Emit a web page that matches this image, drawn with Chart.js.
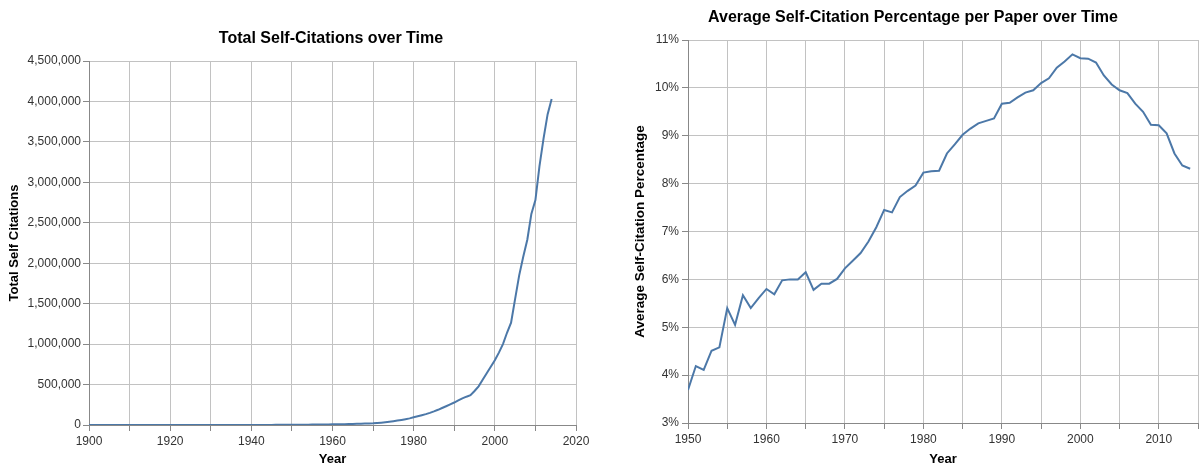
<!DOCTYPE html>
<html>
<head>
<meta charset="utf-8">
<script src="https://cdn.jsdelivr.net/npm/chart.js@4.4.1/dist/chart.umd.min.js"></script>
<style>
  html, body { margin: 0; padding: 0; background: #fff; }
  #wrap { position: relative; width: 1203px; height: 468px; }
  canvas { position: absolute; top: 0; }
</style>
</head>
<body>
<div id="wrap">
  <canvas id="chartTotal" width="600" height="468" style="left:0"></canvas>
  <canvas id="chartPct" width="603" height="468" style="left:600px"></canvas>
</div>
<script>
// ---- data: total self-citations per year ----
const totalYears = [
  1900, 1901, 1902, 1903, 1904, 1905, 1906, 1907, 1908, 1909,
  1910, 1911, 1912, 1913, 1914, 1915, 1916, 1917, 1918, 1919,
  1920, 1921, 1922, 1923, 1924, 1925, 1926, 1927, 1928, 1929,
  1930, 1931, 1932, 1933, 1934, 1935, 1936, 1937, 1938, 1939,
  1940, 1941, 1942, 1943, 1944, 1945, 1946, 1947, 1948, 1949,
  1950, 1951, 1952, 1953, 1954, 1955, 1956, 1957, 1958, 1959,
  1960, 1961, 1962, 1963, 1964, 1965, 1966, 1967, 1968, 1969,
  1970, 1971, 1972, 1973, 1974, 1975, 1976, 1977, 1978, 1979,
  1980, 1981, 1982, 1983, 1984, 1985, 1986, 1987, 1988, 1989,
  1990, 1991, 1992, 1993, 1994, 1995, 1996, 1997, 1998, 1999,
  2000, 2001, 2002, 2003, 2004, 2005, 2006, 2007, 2008, 2009,
  2010, 2011, 2012, 2013, 2014
];
const totalSelfCitations = [
  150, 160, 170, 180, 200, 210, 230, 240, 260, 280,
  300, 320, 340, 360, 350, 330, 330, 360, 400, 450,
  500, 540, 580, 620, 660, 700, 750, 800, 850, 900,
  950, 1000, 1050, 1100, 1150, 1200, 1250, 1300, 1350, 1400,
  1400, 1350, 1300, 1300, 1350, 1500, 1700, 1900, 2100, 2400,
  2800, 3100, 3400, 3800, 4200, 4700, 5200, 5800, 6400, 7000,
  7800, 8600, 9500, 10500, 11500, 12800, 14200, 15800, 17500, 19500,
  21500, 25000, 29000, 34000, 40000, 47000, 55000, 63000, 72000, 82000,
  95000, 107000, 120000, 134000, 150000, 168000, 188000, 210000, 232000, 255000,
  278000, 305000, 330000, 350000, 368000, 420000, 478000, 560000, 640000, 720000,
  800000, 895000, 1000000, 1140000, 1265000, 1560000, 1850000, 2080000, 2290000, 2610000,
  2780000, 3200000, 3540000, 3840000, 4030000
];

// ---- data: average self-citation percentage per paper ----
const pctYears = [
  1950, 1951, 1952, 1953, 1954, 1955, 1956, 1957, 1958, 1959,
  1960, 1961, 1962, 1963, 1964, 1965, 1966, 1967, 1968, 1969,
  1970, 1971, 1972, 1973, 1974, 1975, 1976, 1977, 1978, 1979,
  1980, 1981, 1982, 1983, 1984, 1985, 1986, 1987, 1988, 1989,
  1990, 1991, 1992, 1993, 1994, 1995, 1996, 1997, 1998, 1999,
  2000, 2001, 2002, 2003, 2004, 2005, 2006, 2007, 2008, 2009,
  2010, 2011, 2012, 2013, 2014
];
const avgSelfCitationPct = [
  3.69, 4.19, 4.11, 4.51, 4.58, 5.40, 5.05, 5.67, 5.40, 5.61,
  5.80, 5.69, 5.98, 6.00, 6.00, 6.15, 5.78, 5.91, 5.91, 6.01,
  6.23, 6.39, 6.55, 6.79, 7.09, 7.45, 7.40, 7.72, 7.85, 7.96,
  8.23, 8.26, 8.27, 8.63, 8.82, 9.02, 9.15, 9.26, 9.31, 9.36,
  9.67, 9.69, 9.80, 9.90, 9.95, 10.10, 10.20, 10.42, 10.55, 10.70,
  10.62, 10.61, 10.53, 10.26, 10.07, 9.95, 9.89, 9.67, 9.50, 9.23,
  9.22, 9.05, 8.63, 8.38, 8.31
];

const FONT = "'Liberation Sans', Arial, Helvetica, sans-serif";
const LINE_COLOR = '#4c78a8';
const GRID_COLOR = '#c2c2c2';
const DOMAIN_COLOR = '#888';

// chart title drawn at a fixed spot (x in canvas coords)
const chartTitle = {
    id: 'chartTitle',
    afterDraw(chart, args, opts) {
        const { ctx } = chart;
        ctx.save();
        ctx.font = 'bold 16px ' + FONT;
        ctx.fillStyle = '#000';
        ctx.textAlign = 'center';
        ctx.textBaseline = 'middle';
        ctx.fillText(opts.text, opts.x, opts.y);
        ctx.restore();
    }
};

function toPoints(xs, ys) {
    return xs.map((x, i) => ({ x, y: ys[i] }));
}

function baseScales(cfg) {
    return {
        x: {
            type: 'linear',
            min: cfg.xMin, max: cfg.xMax,
            afterFit: s => { s.height = cfg.xHeight; },
            grid: { color: GRID_COLOR, tickColor: DOMAIN_COLOR, tickLength: 6 },
            border: { color: DOMAIN_COLOR, width: 1 },
            ticks: {
                stepSize: cfg.xStep, autoSkip: false, maxRotation: 0, padding: 3,
                color: '#333', font: { family: FONT, size: 12 },
                callback: v => v % cfg.xLabelEvery === 0 ? String(v) : ''
            },
            title: {
                display: true, text: 'Year', color: '#000',
                font: { family: FONT, size: 13, weight: 'bold' },
                padding: { top: 0, bottom: 1 }
            }
        },
        y: {
            min: cfg.yMin, max: cfg.yMax,
            afterFit: s => { s.width = cfg.yWidth; },
            grid: { color: GRID_COLOR, tickColor: DOMAIN_COLOR, tickLength: 6 },
            border: { color: DOMAIN_COLOR, width: 1 },
            ticks: {
                stepSize: cfg.yStep, autoSkip: false, padding: cfg.yTickPad,
                color: '#333', font: { family: FONT, size: 12 },
                callback: cfg.yFormat
            },
            title: {
                display: true, text: cfg.yTitle, color: '#000',
                font: { family: FONT, size: cfg.yTitleSize, weight: 'bold' },
                padding: { top: cfg.yTitlePad, bottom: 0 }
            }
        }
    };
}

// ---- left: total self-citations ----
new Chart(document.getElementById('chartTotal').getContext('2d'), {
    type: 'line',
    data: {
        datasets: [{
            data: toPoints(totalYears, totalSelfCitations),
            borderColor: LINE_COLOR,
            borderWidth: 2,
            pointRadius: 0,
            tension: 0,
            fill: false
        }]
    },
    options: {
        responsive: false,
        animation: false,
        layout: { padding: { left: 0, right: 24, top: 61, bottom: 0 } },
        scales: baseScales({
            xMin: 1900, xMax: 2020, xStep: 10, xLabelEvery: 20, xHeight: 43,
            yMin: 0, yMax: 4500000, yStep: 500000, yWidth: 89, yTickPad: 2,
            yTitle: 'Total Self Citations', yTitleSize: 13, yTitlePad: 7,
            yFormat: v => v.toLocaleString('en-US')
        }),
        plugins: {
            legend: { display: false },
            tooltip: { enabled: false },
            chartTitle: { text: 'Total Self-Citations over Time', x: 331, y: 39 }
        }
    },
    plugins: [chartTitle]
});

// ---- right: average self-citation percentage ----
new Chart(document.getElementById('chartPct').getContext('2d'), {
    type: 'line',
    data: {
        datasets: [{
            data: toPoints(pctYears, avgSelfCitationPct),
            borderColor: LINE_COLOR,
            borderWidth: 2,
            pointRadius: 0,
            tension: 0,
            fill: false
        }]
    },
    options: {
        responsive: false,
        animation: false,
        layout: { padding: { left: 0, right: 5, top: 40, bottom: 0 } },
        scales: baseScales({
            xMin: 1950, xMax: 2015, xStep: 5, xLabelEvery: 10, xHeight: 45,
            yMin: 3, yMax: 11, yStep: 1, yWidth: 88, yTickPad: 3,
            yTitle: 'Average Self-Citation Percentage', yTitleSize: 13.5, yTitlePad: 32,
            yFormat: v => v + '%'
        }),
        plugins: {
            legend: { display: false },
            tooltip: { enabled: false },
            chartTitle: { text: 'Average Self-Citation Percentage per Paper over Time', x: 313, y: 18 }
        }
    },
    plugins: [chartTitle]
});
</script>
</body>
</html>
